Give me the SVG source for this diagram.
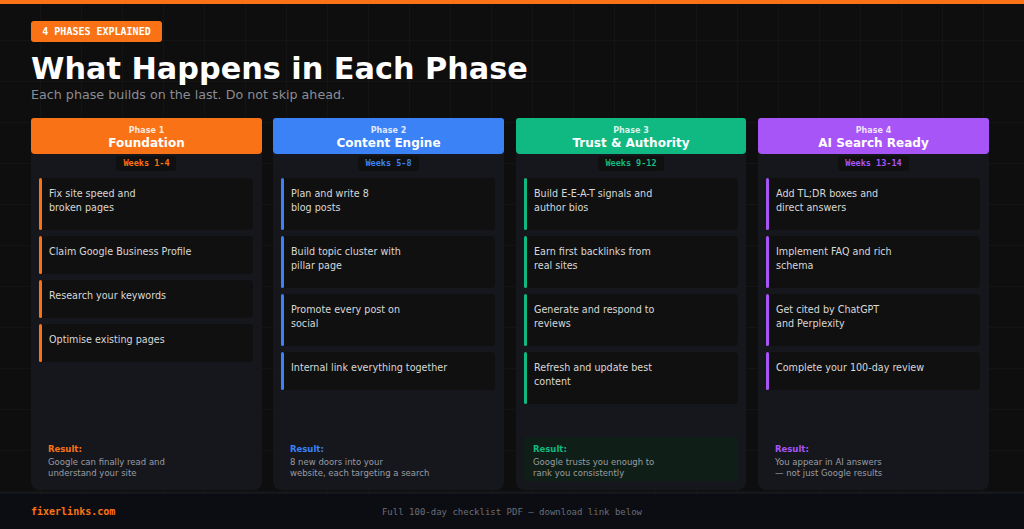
<svg xmlns="http://www.w3.org/2000/svg" width="1024" height="529" viewBox="0 0 1024 529">
<defs>
<pattern id="grid" width="41" height="41" patternUnits="userSpaceOnUse"><path d="M41 0V41H0" fill="none" stroke="#1a1a1a" stroke-width="1"/></pattern>
<style>
.t{font-family:"DejaVu Sans",sans-serif}
.m{font-family:"DejaVu Sans Mono",monospace}
.item{fill:#101010}
.it{font-family:"DejaVu Sans",sans-serif;font-size:9.6px;fill:#d8d8d8}
.body{fill:#15171c}
.rl{font-family:"DejaVu Sans",sans-serif;font-size:8.5px;font-weight:bold}
.rt{font-family:"DejaVu Sans",sans-serif;font-size:8.5px;fill:#9a9ca3}
.ph{font-family:"DejaVu Sans",sans-serif;font-size:8px;font-weight:bold;fill:#fff;fill-opacity:.85;text-anchor:middle}
.pn{font-family:"DejaVu Sans",sans-serif;font-size:12px;font-weight:bold;fill:#fff;text-anchor:middle}
.wk{font-family:"DejaVu Sans Mono",monospace;font-size:8.5px;font-weight:bold;text-anchor:middle}
</style>
</defs>
<rect width="1024" height="529" fill="#0e0e0e"/>
<rect width="1024" height="529" fill="url(#grid)"/>
<rect width="1024" height="4" fill="#f97316"/>
<rect x="31" y="21" width="131" height="21" rx="3" fill="#f97316"/>
<text x="96.5" y="35" class="m" font-size="10" font-weight="bold" fill="#fff" text-anchor="middle">4 PHASES EXPLAINED</text>
<text x="31" y="79" class="t" font-size="30.3" font-weight="bold" fill="#fff">What Happens in Each Phase</text>
<text x="31" y="99" class="t" font-size="12.7" fill="#8a8d95">Each phase builds on the last. Do not skip ahead.</text>

<g id="phase1">
<rect x="31" y="118" width="231" height="372" rx="8" class="body"/>
<path d="M31 121Q31 118 34 118H259Q262 118 262 121V150Q262 154 258 154H35Q31 154 31 150Z" fill="#f97316"/>
<text x="146.5" y="133" class="ph">Phase 1</text>
<text x="146.5" y="147" class="pn">Foundation</text>
<rect x="116" y="156" width="60" height="15" rx="3" fill="#101010"/>
<text x="146.5" y="166" class="wk" fill="#f97316">Weeks 1-4</text>
<rect x="39" y="178" width="214" height="52" rx="4" class="item"/><rect x="39" y="178" width="3" height="52" rx="1.5" fill="#f97316"/>
<text x="49" y="197" class="it">Fix site speed and</text><text x="49" y="211" class="it">broken pages</text>
<rect x="39" y="236" width="214" height="38" rx="4" class="item"/><rect x="39" y="236" width="3" height="38" rx="1.5" fill="#f97316"/>
<text x="49" y="255" class="it">Claim Google Business Profile</text>
<rect x="39" y="280" width="214" height="38" rx="4" class="item"/><rect x="39" y="280" width="3" height="38" rx="1.5" fill="#f97316"/>
<text x="49" y="299" class="it">Research your keywords</text>
<rect x="39" y="324" width="214" height="38" rx="4" class="item"/><rect x="39" y="324" width="3" height="38" rx="1.5" fill="#f97316"/>
<text x="49" y="343" class="it">Optimise existing pages</text>
<text x="48" y="452" class="rl" fill="#f97316">Result:</text>
<text x="48" y="465" class="rt">Google can finally read and</text><text x="48" y="476" class="rt">understand your site</text>
</g>

<g id="phase2">
<rect x="273" y="118" width="231" height="372" rx="8" class="body"/>
<path d="M273 121Q273 118 276 118H501Q504 118 504 121V150Q504 154 500 154H277Q273 154 273 150Z" fill="#3b82f6"/>
<text x="388.5" y="133" class="ph">Phase 2</text>
<text x="388.5" y="147" class="pn">Content Engine</text>
<rect x="358" y="156" width="61" height="15" rx="3" fill="#101010"/>
<text x="388.5" y="166" class="wk" fill="#3b82f6">Weeks 5-8</text>
<rect x="281" y="178" width="214" height="52" rx="4" class="item"/><rect x="281" y="178" width="3" height="52" rx="1.5" fill="#3b82f6"/>
<text x="291" y="197" class="it">Plan and write 8</text><text x="291" y="211" class="it">blog posts</text>
<rect x="281" y="236" width="214" height="52" rx="4" class="item"/><rect x="281" y="236" width="3" height="52" rx="1.5" fill="#3b82f6"/>
<text x="291" y="255" class="it">Build topic cluster with</text><text x="291" y="269" class="it">pillar page</text>
<rect x="281" y="294" width="214" height="52" rx="4" class="item"/><rect x="281" y="294" width="3" height="52" rx="1.5" fill="#3b82f6"/>
<text x="291" y="313" class="it">Promote every post on</text><text x="291" y="327" class="it">social</text>
<rect x="281" y="352" width="214" height="38" rx="4" class="item"/><rect x="281" y="352" width="3" height="38" rx="1.5" fill="#3b82f6"/>
<text x="291" y="371" class="it">Internal link everything together</text>
<text x="290" y="452" class="rl" fill="#3b82f6">Result:</text>
<text x="290" y="465" class="rt">8 new doors into your</text><text x="290" y="476" class="rt">website, each targeting a search</text>
</g>

<g id="phase3">
<rect x="516" y="118" width="230" height="372" rx="8" class="body"/>
<path d="M516 121Q516 118 519 118H743Q746 118 746 121V150Q746 154 742 154H520Q516 154 516 150Z" fill="#10b981"/>
<text x="631" y="133" class="ph">Phase 3</text>
<text x="631" y="147" class="pn">Trust &amp; Authority</text>
<rect x="598" y="156" width="66" height="15" rx="3" fill="#101010"/>
<text x="631" y="166" class="wk" fill="#10b981">Weeks 9-12</text>
<rect x="524" y="178" width="214" height="52" rx="4" class="item"/><rect x="524" y="178" width="3" height="52" rx="1.5" fill="#10b981"/>
<text x="534" y="197" class="it">Build E-E-A-T signals and</text><text x="534" y="211" class="it">author bios</text>
<rect x="524" y="236" width="214" height="52" rx="4" class="item"/><rect x="524" y="236" width="3" height="52" rx="1.5" fill="#10b981"/>
<text x="534" y="255" class="it">Earn first backlinks from</text><text x="534" y="269" class="it">real sites</text>
<rect x="524" y="294" width="214" height="52" rx="4" class="item"/><rect x="524" y="294" width="3" height="52" rx="1.5" fill="#10b981"/>
<text x="534" y="313" class="it">Generate and respond to</text><text x="534" y="327" class="it">reviews</text>
<rect x="524" y="352" width="214" height="52" rx="4" class="item"/><rect x="524" y="352" width="3" height="52" rx="1.5" fill="#10b981"/>
<text x="534" y="371" class="it">Refresh and update best</text><text x="534" y="385" class="it">content</text>
<rect x="524" y="437" width="214" height="44" rx="4" fill="#0f1f17"/>
<text x="533" y="452" class="rl" fill="#10b981">Result:</text>
<text x="533" y="465" class="rt">Google trusts you enough to</text><text x="533" y="476" class="rt">rank you consistently</text>
</g>

<g id="phase4">
<rect x="758" y="118" width="231" height="372" rx="8" class="body"/>
<path d="M758 121Q758 118 761 118H986Q989 118 989 121V150Q989 154 985 154H762Q758 154 758 150Z" fill="#a855f7"/>
<text x="873.5" y="133" class="ph">Phase 4</text>
<text x="873.5" y="147" class="pn">AI Search Ready</text>
<rect x="838" y="156" width="71" height="15" rx="3" fill="#101010"/>
<text x="873.5" y="166" class="wk" fill="#a855f7">Weeks 13-14</text>
<rect x="766" y="178" width="214" height="52" rx="4" class="item"/><rect x="766" y="178" width="3" height="52" rx="1.5" fill="#a855f7"/>
<text x="776" y="197" class="it">Add TL;DR boxes and</text><text x="776" y="211" class="it">direct answers</text>
<rect x="766" y="236" width="214" height="52" rx="4" class="item"/><rect x="766" y="236" width="3" height="52" rx="1.5" fill="#a855f7"/>
<text x="776" y="255" class="it">Implement FAQ and rich</text><text x="776" y="269" class="it">schema</text>
<rect x="766" y="294" width="214" height="52" rx="4" class="item"/><rect x="766" y="294" width="3" height="52" rx="1.5" fill="#a855f7"/>
<text x="776" y="313" class="it">Get cited by ChatGPT</text><text x="776" y="327" class="it">and Perplexity</text>
<rect x="766" y="352" width="214" height="38" rx="4" class="item"/><rect x="766" y="352" width="3" height="38" rx="1.5" fill="#a855f7"/>
<text x="776" y="371" class="it">Complete your 100-day review</text>
<text x="775" y="452" class="rl" fill="#a855f7">Result:</text>
<text x="775" y="465" class="rt">You appear in AI answers</text><text x="775" y="476" class="rt">— not just Google results</text>
</g>

<g id="connectors"></g>

<rect x="0" y="493" width="1024" height="36" fill="#0c0d12"/>
<line x1="0" y1="493" x2="1024" y2="493" stroke="#1f2128"/>
<text x="31" y="515" class="m" font-size="10" font-weight="bold" fill="#f97316">fixerlinks.com</text>
<text x="512" y="515" class="m" font-size="9" fill="#6b6e76" text-anchor="middle">Full 100-day checklist PDF — download link below</text>
</svg>
